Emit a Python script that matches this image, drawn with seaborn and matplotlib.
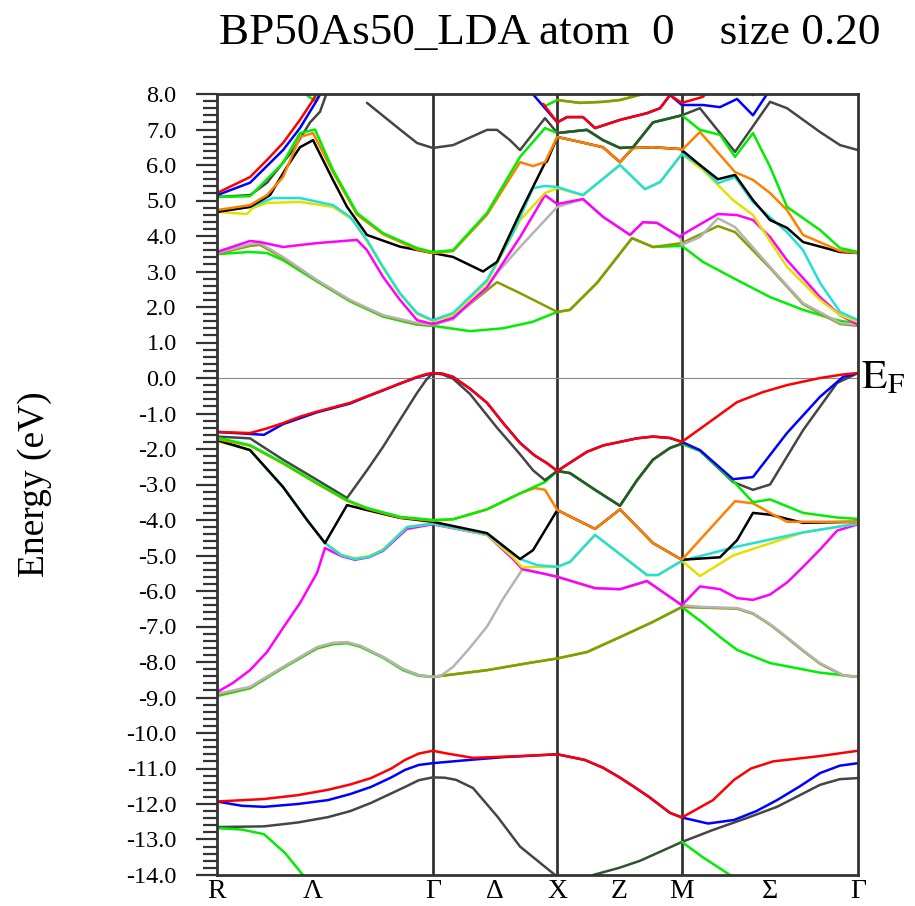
import numpy as np
import matplotlib
matplotlib.use("Agg")
import matplotlib.pyplot as plt
import seaborn as sns

# ---------------- data ----------------
# path coordinate of the high-symmetry points (simple cubic: R-G-X-M-G)
K_POINTS = [0.0, 1.732, 2.732, 3.732, 5.146]
K_LABELS = ["R", "\u039b", "\u0393", "\u0394", "X", "Z", "M", "\u03a3", "\u0393"]
K_LABEL_POS = [0.0, 0.771, 1.732, 2.232, 2.732, 3.232, 3.732, 4.44, 5.146]
TITLE = "BP50As50_LDA atom  0    size 0.20"
Y_MIN, Y_MAX = -14.0, 8.0

# ---- lowest bands ----
L_DGRAY_A = [(0, -12.65), (0.377, -12.63), (0.65, -12.52), (0.891, -12.37), (1.07, -12.2), (1.236, -11.97),
             (1.4, -11.7), (1.509, -11.52), (1.62, -11.33), (1.732, -11.25), (1.83, -11.26), (1.919, -11.32),
             (2.055, -11.55), (2.25, -12.35), (2.433, -13.2), (2.714, -14.0), (2.8, -14.4)]
L_DGRAY_B = [(3.732, -13.07), (3.982, -12.73), (4.25, -12.4), (4.496, -12.08), (4.68, -11.75),
             (4.841, -11.46), (5.0, -11.3), (5.146, -11.27)]
L_DKGREEN = [(2.9, -14.5), (3.019, -14.0), (3.227, -13.8), (3.396, -13.6), (3.732, -13.07)]
L_GREEN_A = [(0, -12.68), (0.2, -12.72), (0.377, -12.85), (0.546, -13.38), (0.69, -14.0), (0.75, -14.3)]
L_GREEN_B = [(3.732, -13.07), (3.9, -13.5), (4.119, -14.0), (4.2, -14.3)]
L_RED_GXM = [(2.732, -10.6), (2.954, -10.76), (3.1, -10.98), (3.227, -11.24), (3.35, -11.52),
             (3.468, -11.8), (3.637, -12.25), (3.732, -12.38)]
L_BLUE = ([(0, -11.93), (0.2, -12.05), (0.377, -12.08), (0.65, -12.0), (0.891, -11.89), (1.07, -11.72),
           (1.236, -11.52), (1.4, -11.25), (1.509, -11.04), (1.62, -10.9), (1.732, -10.85), (2.055, -10.75),
           (2.3, -10.68)] + L_RED_GXM +
          [(3.942, -12.55), (4.151, -12.45), (4.33, -12.2), (4.496, -11.89), (4.68, -11.5), (4.841, -11.13),
           (5.0, -10.92), (5.146, -10.85)])
L_RED = ([(0, -11.93), (0.377, -11.86), (0.65, -11.75), (0.891, -11.6), (1.07, -11.45), (1.236, -11.27),
          (1.4, -11.0), (1.509, -10.76), (1.62, -10.58), (1.732, -10.5), (1.85, -10.58), (2.055, -10.7),
          (2.433, -10.65)] + L_RED_GXM +
         [(3.982, -11.89), (4.151, -11.32), (4.287, -11.0), (4.464, -10.8), (4.841, -10.65), (5.146, -10.5)])

# ---- valence bands ----
V_OLIVE_GXM = [(1.732, -8.42), (2.168, -8.23), (2.5, -8.03), (2.732, -7.9), (2.97, -7.72), (3.235, -7.3),
               (3.5, -6.87), (3.732, -6.45)]
V_OLIVE = ([(0, -8.93), (0.265, -8.72), (0.53, -8.15), (0.803, -7.6), (0.93, -7.48), (1.044, -7.45),
            (1.15, -7.55), (1.333, -7.86), (1.493, -8.2), (1.62, -8.37)] + V_OLIVE_GXM +
           [(3.901, -6.47), (4.175, -6.5), (4.303, -6.64), (4.44, -6.95), (4.576, -7.32), (4.71, -7.7),
            (4.841, -8.05), (5.026, -8.38), (5.146, -8.42)])
V_GREEN2 = ([(0, -8.96), (0.265, -8.74), (0.53, -8.17), (0.803, -7.62), (0.93, -7.5), (1.044, -7.47),
             (1.15, -7.57), (1.333, -7.88), (1.493, -8.23), (1.62, -8.39)] + V_OLIVE_GXM +
            [(3.901, -6.9), (4.04, -7.3), (4.175, -7.66), (4.44, -8.03), (4.841, -8.3), (5.146, -8.42)])
V_MAG_XM = [(2.732, -5.6), (3.035, -5.92), (3.235, -5.95), (3.452, -5.72), (3.732, -6.4)]
V_GRAY = ([(0, -8.9), (0.265, -8.7), (0.53, -8.14), (0.803, -7.58), (0.93, -7.46), (1.044, -7.44),
           (1.15, -7.54), (1.333, -7.86), (1.493, -8.2), (1.62, -8.37), (1.732, -8.42), (1.8, -8.38),
           (1.895, -8.14), (2.03, -7.6), (2.168, -7.0), (2.3, -6.2), (2.45, -5.4), (2.633, -5.52)] + V_MAG_XM +
          [(3.901, -6.45), (4.175, -6.48), (4.303, -6.62), (4.44, -6.93), (4.576, -7.3), (4.71, -7.68),
           (4.841, -8.03), (5.026, -8.37), (5.146, -8.42)])
V_MAGENTA = ([(0, -8.85), (0.128, -8.59), (0.265, -8.23), (0.401, -7.72), (0.53, -7.04), (0.666, -6.34),
              (0.803, -5.49), (0.867, -4.79), (1.0, -5.02), (1.108, -5.12), (1.22, -5.05), (1.333, -4.87),
              (1.525, -4.25), (1.732, -4.12), (2.168, -4.42), (2.376, -5.1), (2.45, -5.38),
              (2.633, -5.52)] + V_MAG_XM +
             [(3.877, -5.87), (4.038, -5.95), (4.175, -6.2), (4.303, -6.25), (4.44, -6.1), (4.58, -5.75),
              (4.705, -5.32), (4.85, -4.8), (4.978, -4.3), (5.146, -4.12)])
V_CYAN_XM = [(2.732, -5.32), (2.834, -5.18), (3.035, -4.42), (3.452, -5.55), (3.54, -5.55), (3.732, -5.15)]
V_YELLOW = ([(0, -1.78), (0.265, -2.03), (0.53, -3.07), (0.723, -4.0), (0.867, -4.65), (1.0, -4.98),
             (1.108, -5.08), (1.22, -5.02), (1.333, -4.83), (1.525, -4.2), (1.732, -4.1), (2.168, -4.42),
             (2.376, -5.05), (2.45, -5.33), (2.6, -5.32)] + V_CYAN_XM +
            [(3.877, -5.58), (4.143, -5.0), (4.705, -4.35), (5.146, -4.1)])
V_CYAN = ([(0, -1.75), (0.265, -2.03), (0.53, -3.07), (0.723, -4.0), (0.867, -4.65), (1.0, -5.0),
           (1.108, -5.1), (1.22, -5.04), (1.333, -4.85), (1.525, -4.2), (1.732, -4.1), (2.168, -4.4),
           (2.433, -5.1), (2.57, -5.27)] + V_CYAN_XM + [(4.175, -4.75), (4.705, -4.35), (5.146, -4.1)])
V_DKGREEN_XM = [(2.732, -2.62), (2.834, -2.68), (3.035, -3.15), (3.235, -3.6), (3.372, -2.88),
                (3.5, -2.3), (3.637, -1.97), (3.732, -1.85)]
V_DGRAY = ([(0, -1.65), (0.265, -1.7), (0.53, -2.3), (0.803, -2.87), (1.044, -3.38), (1.204, -2.6),
            (1.333, -1.94), (1.469, -1.18), (1.606, -0.42), (1.68, -0.05), (1.732, 0.14), (1.81, 0.1),
            (1.895, -0.02), (2.031, -0.45), (2.248, -1.4), (2.433, -2.15), (2.537, -2.6),
            (2.633, -2.88)] + V_DKGREEN_XM +
           [(3.877, -2.05), (4.143, -2.93), (4.303, -3.15), (4.44, -3.0), (4.705, -1.47),
            (4.978, -0.14), (5.146, 0.14)])
V_ORANGE_XM = [(2.732, -3.72), (2.834, -3.9), (3.035, -4.25), (3.235, -3.7), (3.5, -4.65), (3.732, -5.12)]
V_BLACK = ([(0, -1.75), (0.265, -2.03), (0.53, -3.07), (0.723, -4.0), (0.867, -4.65), (1.044, -3.58),
            (1.204, -3.72), (1.469, -3.94), (1.732, -4.05), (2.168, -4.37), (2.433, -5.1), (2.537, -4.85)] +
           V_ORANGE_XM +
           [(4.038, -5.05), (4.175, -4.57), (4.303, -3.8), (4.44, -3.85), (4.705, -4.08), (5.146, -4.05)])
V_ORANGE = ([(0, -1.72), (0.265, -1.91), (0.53, -2.41), (0.803, -2.98), (1.044, -3.46), (1.204, -3.68),
             (1.469, -3.93), (1.732, -4.02), (1.895, -3.98), (2.168, -3.7), (2.433, -3.25), (2.553, -3.1),
             (2.633, -3.15)] + V_ORANGE_XM +
            [(4.159, -3.47), (4.303, -3.53), (4.44, -3.8), (4.576, -4.05), (5.146, -4.05)])
V_GREEN = ([(0, -1.68), (0.265, -1.89), (0.53, -2.39), (0.803, -2.96), (1.044, -3.44), (1.204, -3.66),
            (1.469, -3.91), (1.732, -4.0), (1.895, -3.98), (2.168, -3.7), (2.433, -3.25), (2.633, -2.93)] +
           V_DKGREEN_XM +
           [(3.877, -2.05), (4.143, -2.9), (4.303, -3.5), (4.44, -3.42), (4.705, -3.8), (4.978, -3.93),
            (5.146, -3.97)])
V_DKGREEN = [(2.633, -2.88)] + V_DKGREEN_XM
V_RED_GXM = [(1.732, 0.14), (1.81, 0.12), (1.895, 0.03), (2.031, -0.3), (2.168, -0.7), (2.3, -1.28),
             (2.433, -1.83), (2.549, -2.18), (2.649, -2.4), (2.732, -2.62), (2.85, -2.35), (2.97, -2.08),
             (3.1, -1.9), (3.235, -1.8), (3.37, -1.7), (3.5, -1.65), (3.637, -1.69), (3.732, -1.8)]
V_BLUE = ([(0, -1.52), (0.377, -1.6), (0.53, -1.3), (0.8, -0.97), (1.068, -0.72), (1.2, -0.53),
           (1.333, -0.35), (1.47, -0.16), (1.606, 0.02)] + V_RED_GXM +
          [(3.877, -2.03), (4.143, -2.85), (4.303, -2.79), (4.576, -1.55), (4.841, -0.53), (5.026, 0.03),
           (5.146, 0.14)])
V_RED = ([(0, -1.52), (0.265, -1.55), (0.401, -1.42), (0.53, -1.27), (0.666, -1.09), (0.8, -0.95),
          (1.068, -0.7), (1.2, -0.52), (1.333, -0.34), (1.47, -0.15), (1.606, 0.03), (1.68, 0.11)] + V_RED_GXM +
         [(3.95, -1.25), (4.175, -0.68), (4.38, -0.4), (4.576, -0.2), (4.841, 0.0), (5.026, 0.1), (5.146, 0.14)])

# ---- conduction bands ----
C_OLIVE_GXM = [(2.732, 1.86), (2.834, 1.92), (3.051, 2.68), (3.332, 3.94), (3.5, 3.69)]
C_GREEN2 = ([(0, 3.49), (0.265, 3.55), (0.401, 3.52), (0.53, 3.32), (0.803, 2.72), (1.068, 2.16),
             (1.333, 1.73), (1.606, 1.5), (1.732, 1.47), (2.031, 1.32), (2.296, 1.4), (2.532, 1.58)] +
            C_OLIVE_GXM +
            [(3.732, 3.72), (3.901, 3.27), (4.175, 2.76), (4.44, 2.28), (4.705, 1.92), (4.978, 1.63),
             (5.146, 1.52)])
C_OLIVE = ([(0, 3.5), (0.265, 3.72), (0.345, 3.75), (0.53, 3.38), (0.803, 2.74), (1.068, 2.18),
            (1.333, 1.75), (1.606, 1.52), (1.732, 1.48), (1.895, 1.7), (2.248, 2.7), (2.433, 2.39)] +
           C_OLIVE_GXM +
           [(3.732, 3.8), (4.022, 4.28), (4.159, 4.11), (4.44, 3.1), (4.705, 2.08), (5.002, 1.52),
            (5.146, 1.47)])
C_MAG_XM = [(2.938, 5.04), (3.099, 4.54), (3.316, 4.03), (3.42, 4.39), (3.532, 4.37), (3.718, 3.97)]
C_GRAY = ([(0, 3.52), (0.265, 3.77), (0.345, 3.8), (0.53, 3.41), (0.803, 2.76), (1.068, 2.2),
           (1.333, 1.77), (1.606, 1.55), (1.732, 1.5), (1.895, 1.65), (2.168, 2.55), (2.248, 2.96),
           (2.433, 3.69), (2.732, 4.82)] + C_MAG_XM +
          [(3.732, 3.75), (3.877, 3.97), (4.022, 4.5), (4.159, 4.25), (4.44, 3.13), (4.705, 2.11),
           (5.002, 1.55), (5.146, 1.5)])
C_MAGENTA = ([(0, 3.55), (0.265, 3.86), (0.345, 3.83), (0.53, 3.69), (0.803, 3.8), (1.124, 3.89),
              (1.204, 3.6), (1.333, 2.85), (1.469, 2.2), (1.606, 1.63), (1.732, 1.52), (1.895, 1.69),
              (2.168, 2.56), (2.433, 3.97), (2.633, 5.15), (2.732, 4.9)] + C_MAG_XM +
             [(3.732, 4.03), (4.022, 4.62), (4.175, 4.59), (4.303, 4.45), (4.44, 3.97), (4.576, 3.32),
              (4.841, 2.28), (5.002, 1.77), (5.146, 1.5)])
C_CYAN_XM = [(2.938, 5.15), (3.235, 6.0), (3.436, 5.32), (3.557, 5.52), (3.732, 6.31)]
C_YELLOW = ([(0, 4.68), (0.24, 4.62), (0.289, 4.79), (0.401, 4.93), (0.666, 4.96), (0.931, 4.82),
             (1.092, 4.45), (1.204, 3.85), (1.333, 3.1), (1.469, 2.36), (1.606, 1.8), (1.732, 1.6),
             (1.895, 1.78), (2.168, 2.7), (2.433, 4.45), (2.633, 5.21), (2.732, 5.35)] + C_CYAN_XM +
            [(3.901, 5.86), (4.143, 5.01), (4.303, 4.59), (4.576, 3.13), (4.841, 2.2), (5.002, 1.77),
             (5.146, 1.58)])
C_CYAN = ([(0, 4.68), (0.265, 4.82), (0.45, 5.07), (0.666, 5.07), (0.931, 4.87), (1.068, 4.54),
           (1.204, 3.89), (1.333, 3.13), (1.469, 2.39), (1.606, 1.83), (1.732, 1.63), (1.895, 1.83),
           (2.168, 2.76), (2.376, 4.08), (2.537, 5.35), (2.633, 5.41), (2.732, 5.38)] + C_CYAN_XM +
          [(3.877, 6.0), (4.022, 5.49), (4.159, 5.66), (4.303, 4.95), (4.576, 4.11), (4.705, 3.6),
           (4.841, 2.68), (5.002, 1.86), (5.146, 1.63)])
C_DGRAY = [(0, 5.1), (0.265, 5.15), (0.401, 5.5), (0.61, 6.42), (0.747, 7.2), (0.827, 7.5), (0.883, 8.05)]
C_DKGREEN = [(2.732, 6.9), (2.97, 6.99), (3.099, 6.7), (3.235, 6.48), (3.34, 6.5), (3.5, 7.2), (3.732, 7.4)]
C_DGRAY_TOP = ([(1.204, 7.75), (1.469, 7.0), (1.606, 6.62), (1.732, 6.48), (1.895, 6.56), (2.168, 6.99),
                (2.248, 6.99), (2.352, 6.7), (2.433, 6.42), (2.633, 7.32)] + C_DKGREEN +
               [(3.877, 7.6), (4.159, 6.37), (4.44, 7.78), (4.576, 7.6), (4.841, 6.93), (5.002, 6.56),
                (5.146, 6.42)])
C_ORANGE_XM = [(2.732, 6.79), (2.914, 6.65), (3.099, 6.5), (3.235, 6.08), (3.34, 6.48), (3.5, 6.5),
               (3.718, 6.45), (3.732, 6.42)]
C_BLACK = ([(0, 4.68), (0.265, 4.82), (0.425, 5.15), (0.562, 5.95), (0.666, 6.5), (0.771, 6.7),
            (0.931, 5.58), (1.044, 4.82), (1.204, 4.03), (1.469, 3.7), (1.732, 3.52), (1.895, 3.41),
            (2.136, 3.0), (2.248, 3.27), (2.433, 4.65), (2.633, 6.06), (2.649, 6.1)] + C_ORANGE_XM +
           [(3.877, 6.0), (4.022, 5.6), (4.159, 5.72), (4.303, 5.01), (4.44, 4.45), (4.576, 4.23),
            (4.705, 3.83), (5.002, 3.55), (5.146, 3.52)])
C_ORANGE = ([(0, 4.73), (0.265, 4.87), (0.401, 5.15), (0.53, 5.66), (0.666, 6.79), (0.771, 6.9),
             (0.931, 5.8), (1.124, 4.6), (1.333, 4.05), (1.606, 3.62), (1.732, 3.52), (1.895, 3.57),
             (2.168, 4.6), (2.433, 6.08), (2.537, 5.97), (2.633, 6.08)] + C_ORANGE_XM +
            [(3.877, 6.93), (4.159, 5.8), (4.303, 5.58), (4.44, 5.21), (4.576, 4.73), (4.705, 4.03),
             (5.002, 3.58), (5.146, 3.52)])
C_GREEN = ([(0, 5.1), (0.265, 5.12), (0.53, 6.06), (0.666, 6.9), (0.787, 7.0), (0.931, 5.86),
            (1.124, 4.65), (1.333, 4.08), (1.606, 3.66), (1.732, 3.55), (1.895, 3.6), (2.168, 4.65),
            (2.433, 6.23), (2.633, 7.04)] + C_DKGREEN +
           [(3.877, 6.99), (4.038, 6.85), (4.159, 6.23), (4.303, 6.9), (4.44, 5.95), (4.576, 4.82),
            (4.841, 4.17), (5.002, 3.66), (5.146, 3.55)])
C_TOP_XM = [(2.732, 7.83), (2.914, 7.75), (3.1, 7.78), (3.235, 7.83), (3.42, 8.0), (3.45, 8.1)]
C_GREEN_TOP = [(2.633, 7.66)] + C_TOP_XM
C_OLIVE_TOP = C_TOP_XM
C_GREEN_LAM = [(0.69, 8.05), (0.787, 7.8), (0.84, 8.05)]
C_OLIVE_LAM = [(0.787, 7.8), (0.84, 8.05)]
C_RED_XM = [(2.732, 7.2), (2.81, 7.35), (2.938, 7.35), (3.035, 7.04), (3.235, 7.27), (3.452, 7.46),
            (3.557, 7.6), (3.637, 7.97)]
C_BLUE_TOP = ([(2.51, 8.1)] + C_RED_XM +
              [(3.732, 7.69), (3.901, 7.69), (4.038, 7.63), (4.175, 7.86), (4.303, 7.4), (4.416, 8.0), (4.43, 8.1)])
C_RED_TOP = [(2.62, 7.72)] + C_RED_XM + [(3.732, 7.75), (3.901, 7.92), (3.95, 8.1)]
C_RED_TOP2 = [(4.24, 8.1), (4.303, 7.97), (4.36, 8.1)]
C_BLUE = [(0, 5.15), (0.265, 5.5), (0.53, 6.42), (0.666, 7.04), (0.803, 7.83), (0.843, 8.1)]
C_RED = [(0, 5.21), (0.265, 5.66), (0.401, 6.14), (0.53, 6.62), (0.666, 7.27), (0.771, 7.83), (0.811, 8.1)]

COL = {
    "red": "#ff0000", "blue": "#0000ff", "dgray": "#454545", "green": "#00ee00",
    "orange": "#ff8000", "black": "#000000", "yellow": "#e3e000", "magenta": "#ff00ff",
    "cyan": "#20e0d8", "gray": "#b4b4b4", "olive": "#8c9a00", "dkgreen": "#2f5530",
}

# drawing order (later is on top)
LINES = [
    (L_DGRAY_A, "dgray"), (L_DGRAY_B, "dgray"), (L_DKGREEN, "dkgreen"), (L_GREEN_A, "green"),
    (L_GREEN_B, "green"), (L_BLUE, "blue"), (L_RED, "red"),
    (V_GREEN2, "green"), (V_OLIVE, "olive"), (V_GRAY, "gray"), (V_MAGENTA, "magenta"),
    (V_YELLOW, "yellow"), (V_CYAN, "cyan"), (V_DGRAY, "dgray"), (V_BLACK, "black"),
    (V_ORANGE, "orange"), (V_GREEN, "green"), (V_DKGREEN, "dkgreen"), (V_BLUE, "blue"), (V_RED, "red"),
    (C_GREEN2, "green"), (C_OLIVE, "olive"), (C_GRAY, "gray"), (C_MAGENTA, "magenta"),
    (C_YELLOW, "yellow"), (C_CYAN, "cyan"), (C_DGRAY, "dgray"), (C_DGRAY_TOP, "dgray"),
    (C_BLACK, "black"), (C_ORANGE, "orange"), (C_GREEN, "green"), (C_DKGREEN, "dkgreen"),
    (C_GREEN_TOP, "green"), (C_OLIVE_TOP, "olive"), (C_GREEN_LAM, "green"), (C_OLIVE_LAM, "olive"),
    (C_BLUE_TOP, "blue"), (C_RED_TOP, "red"), (C_RED_TOP2, "red"), (C_BLUE, "blue"), (C_RED, "red"),
]

# ---------------- plot ----------------
sns.set_style("white")
plt.rcParams["font.family"] = ["Liberation Serif", "DejaVu Serif"]
plt.rcParams["mathtext.fontset"] = "stix"
plt.rcParams["text.color"] = "black"
plt.rcParams["axes.labelcolor"] = "black"
plt.rcParams["xtick.color"] = "black"
plt.rcParams["ytick.color"] = "black"

fig = plt.figure(figsize=(9.15, 9.06), dpi=100)
ax = fig.add_axes([217 / 915, 31 / 906, 641 / 915, 781 / 906])

for pts, cname in LINES:
    k = [p[0] for p in pts]
    e = [p[1] for p in pts]
    sns.lineplot(x=k, y=e, ax=ax, color=COL[cname], lw=1.8, sort=False, estimator=None,
                 solid_joinstyle="round", solid_capstyle="round")

for kp in K_POINTS[1:-1]:
    ax.axvline(kp, color="#333333", lw=2.0, zorder=1)
ax.axhline(0.0, color="#888888", lw=0.8, zorder=1)

ax.set_xlim(K_POINTS[0], K_POINTS[-1])
ax.set_ylim(Y_MIN, Y_MAX)
for s in ax.spines.values():
    s.set_color("#333333")
    s.set_linewidth(2.0)
    s.set_visible(True)

ax.set_yticks(np.arange(-14, 8.01, 1.0))
ax.set_yticklabels([f"{v:.1f}" for v in np.arange(-14, 8.01, 1.0)], fontsize=17.5)
ax.set_yticks(np.arange(-14, 8.01, 0.2), minor=True)
ax.tick_params(axis="y", which="major", direction="out", length=15, width=1.6, color="#333333", pad=14,
               left=True, labelcolor="black")
ax.tick_params(axis="y", which="minor", direction="out", length=10, width=1.6, color="#333333", left=True)
ax.set_xticks(K_LABEL_POS)
ax.set_xticklabels(K_LABELS, fontsize=20)
ax.tick_params(axis="x", length=0, pad=3, labelcolor="black")

ax.set_xlabel("")
ax.set_ylabel("Energy (eV)", fontsize=27, color="black")
ax.yaxis.set_label_coords(-0.258, 0.5)

ax.text(1.005, 0.0, r"$\mathrm{E}_{\mathrm{F}}$", transform=ax.get_yaxis_transform(),
        fontsize=30, va="center", ha="left", color="black")
fig.text(550 / 915, 1 - 33 / 906, TITLE, fontsize=32.5, ha="center", va="center", color="black")

fig.savefig("out.png", dpi=100)
